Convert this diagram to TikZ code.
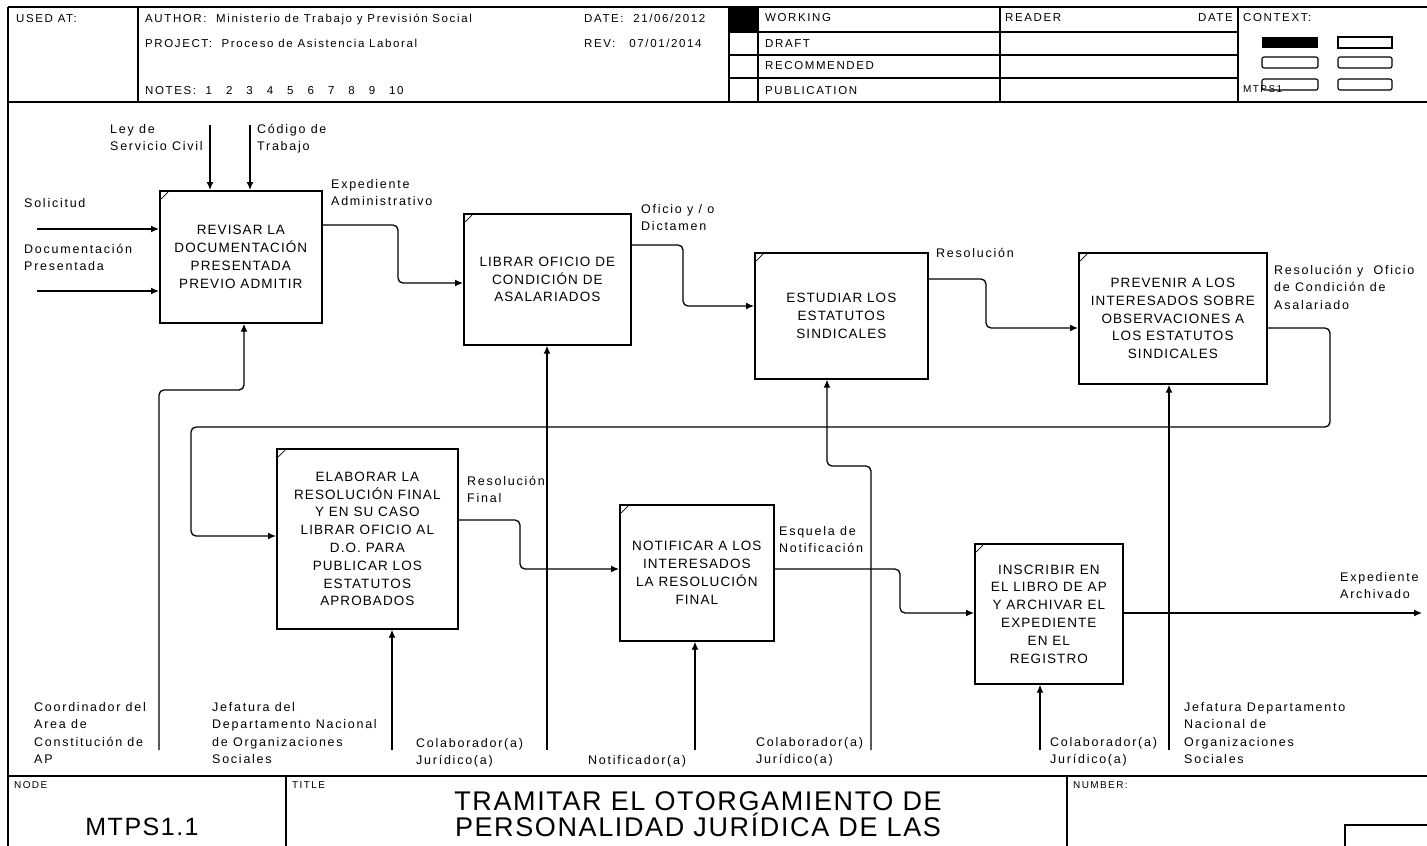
\documentclass[tikz,border=0pt]{standalone}
\usepackage{fontspec}
\setmainfont{Liberation Sans}
\newfontfamily\lblfam[LetterSpace=14]{Liberation Sans}
\newfontfamily\boxfam[LetterSpace=8]{Liberation Sans}
\newfontfamily\titfam[LetterSpace=6]{Liberation Sans}
\usetikzlibrary{arrows.meta}
\begin{document}
\begin{tikzpicture}[x=1pt,y=-1pt,
  frame/.style={line width=1.6pt},
  thinl/.style={line width=1.1pt},
  box/.style={draw, line width=1.7pt, anchor=north west, align=center, inner sep=0pt,
    font=\boxfam\fontsize{13.5}{17.8}\selectfont},
  conn/.style={line width=1.3pt, rounded corners=5pt},
  arr/.style={conn, -{Latex[length=8pt,width=7pt]}},
  lbl/.style={anchor=base west, inner sep=0pt, align=left,
    font=\lblfam\fontsize{12.5}{17.5}\selectfont},
  hdr/.style={anchor=base west, inner sep=0pt, font=\lblfam\fontsize{11.5}{14}\selectfont},
  small/.style={anchor=base west, inner sep=0pt, font=\lblfam\fontsize{10}{11}\selectfont},
  tick/.style={line width=0.7pt}
]
\useasboundingbox (0,0) rectangle (1427,846);
\fill[white] (0,0) rectangle (1427,846);

% ---------- header ----------
\draw[frame] (8,7) -- (1427,7);
\draw[frame] (8,7) -- (8,846);
\draw[frame] (8,102) -- (1427,102);
\draw[frame] (138,7) -- (138,102);
\draw[frame] (729,7) -- (729,102);
\draw[frame] (758,7) -- (758,102);
\draw[frame] (1000,7) -- (1000,102);
\draw[frame] (1238,7) -- (1238,102);
\foreach \yy in {32,55,78} \draw[frame] (729,\yy) -- (1238,\yy);
\fill (729,7) rectangle (758,32);

\node[hdr] (usedat) at (16,22) {USED AT:};
\node[hdr] (author) at (145,22) {AUTHOR:\ \ Ministerio de Trabajo y Previsión Social};
\node[hdr] (project) at (145,47) {PROJECT:\ \ Proceso de Asistencia Laboral};
\node[hdr] (notes) at (145,94) {NOTES:\ \ 1\hspace{14pt}2\hspace{14pt}3\hspace{14pt}4\hspace{14pt}5\hspace{14pt}6\hspace{14pt}7\hspace{14pt}8\hspace{14pt}9\hspace{14pt}10};
\node[hdr] (date) at (584,22) {DATE:\ \ 21/06/2012};
\node[hdr] (rev) at (584,47) {REV:\hspace{14pt}07/01/2014};
\node[hdr] (working) at (765,21) {WORKING};
\node[hdr] (draft) at (765,47) {DRAFT};
\node[hdr] (recom) at (765,69) {RECOMMENDED};
\node[hdr] (public) at (765,94) {PUBLICATION};
\node[hdr] (reader) at (1005,21) {READER};
\node[hdr, anchor=base east] (rdate) at (1233,21) {DATE};
\node[hdr] (context) at (1243,21) {CONTEXT:};

\fill (1262,37) rectangle (1318,48);
\draw[thinl] (1338,37) rectangle (1392,48);
\draw[thinl, rounded corners=2pt] (1262,57) rectangle (1318,68);
\draw[thinl, rounded corners=2pt] (1338,57) rectangle (1392,68);
\draw[thinl, rounded corners=2pt] (1262,79) rectangle (1318,90);
\draw[thinl, rounded corners=2pt] (1338,79) rectangle (1392,90);
\node[small] (ctxnode) at (1243,92) {MTPS1};

% ---------- boxes ----------
\node[box, minimum width=162pt, minimum height=132pt] (A) at (159,190)
  {REVISAR LA\\DOCUMENTACIÓN\\PRESENTADA\\PREVIO ADMITIR};
\node[box, minimum width=167pt, minimum height=131pt] (B) at (463,213)
  {LIBRAR OFICIO DE\\CONDICIÓN DE\\ASALARIADOS};
\node[box, minimum width=173pt, minimum height=126pt] (C) at (754,252)
  {ESTUDIAR LOS\\ESTATUTOS\\SINDICALES};
\node[box, minimum width=188pt, minimum height=131pt] (D) at (1078,252)
  {PREVENIR A LOS\\INTERESADOS SOBRE\\OBSERVACIONES A\\LOS ESTATUTOS\\SINDICALES};
\node[box, minimum width=181pt, minimum height=180pt] (E) at (276,448)
  {ELABORAR LA\\RESOLUCIÓN FINAL\\Y EN SU CASO\\LIBRAR OFICIO AL\\D.O. PARA\\PUBLICAR LOS\\ESTATUTOS\\APROBADOS};
\node[box, minimum width=154pt, minimum height=136pt] (F) at (619,504)
  {NOTIFICAR A LOS\\INTERESADOS\\LA RESOLUCIÓN\\FINAL};
\node[box, minimum width=148pt, minimum height=140pt] (G) at (974,543)
  {INSCRIBIR EN\\EL LIBRO DE AP\\Y ARCHIVAR EL\\EXPEDIENTE\\EN EL\\REGISTRO};

\foreach \b in {A,B,C,D,E,F,G} \draw[tick] (\b.north west) ++(2,9) -- ++(7,-7);

% ---------- inputs and controls of A ----------
\coordinate (inS) at (37,229);
\coordinate (inD) at (37,291);
\draw[arr] (inS) -- (inS -| A.west);
\draw[arr] (inD) -- (inD -| A.west);
\coordinate (ctl1) at (210,125);
\coordinate (ctl2) at (250,125);
\draw[arr] (ctl1) -- (ctl1 |- A.north);
\draw[arr] (ctl2) -- (ctl2 |- A.north);

% ---------- flows ----------
\draw[arr] (A.east |- 0,225) -- (398,225) -- (398,283) -- (B.west |- 0,283);
\draw[arr] (B.east |- 0,245) -- (683,245) -- (683,306) -- (C.west |- 0,306);
\draw[arr] (C.east |- 0,279) -- (986,279) -- (986,328) -- (D.west |- 0,328);
\draw[arr] (D.east |- 0,328) -- (1330,328) -- (1330,427) -- (191,427) -- (191,536) -- (E.west |- 0,536);
\draw[arr] (E.east |- 0,520) -- (520,520) -- (520,569) -- (F.west |- 0,569);
\draw[arr] (F.east |- 0,569) -- (900,569) -- (900,613) -- (G.west |- 0,613);
\coordinate (outG) at (1422,613);
\draw[arr] (G.east |- outG) -- (outG);

% ---------- mechanisms ----------
\coordinate (mA) at (159,750);
\coordinate (mB) at (547,750);
\coordinate (mC) at (871,750);
\coordinate (mD) at (1169,750);
\coordinate (mE) at (392,750);
\coordinate (mF) at (695,750);
\coordinate (mG) at (1040,750);
\draw[arr] (mA) -- (159,390) -- (244,390) -- (A.south -| 244,0);
\draw[arr] (mB) -- (mB |- B.south);
\draw[arr] (mC) -- (871,466) -- (827,466) -- (C.south -| 827,0);
\draw[arr] (mD) -- (mD |- D.south);
\draw[arr] (mE) -- (mE |- E.south);
\draw[arr] (mF) -- (mF |- F.south);
\draw[arr] (mG) -- (mG |- G.south);

% ---------- labels (anchored on the baseline of their last line) ----------
\node[lbl] (lSol) at (24,207) {Solicitud};
\node[lbl] (lDoc) at (24,270.5) {Documentación\\Presentada};
\node[lbl] (lLey) at (110,150.5) {Ley de\\Servicio Civil};
\node[lbl] (lCod) at (257,150.5) {Código de\\Trabajo};
\node[lbl] (lExp) at (331,205.5) {Expediente\\Administrativo};
\node[lbl] (lOfi) at (641,230.5) {Oficio y / o\\Dictamen};
\node[lbl] (lRes) at (936,257) {Resolución};
\node[lbl] (lRyO) at (1274,309) {Resolución y\ \ Oficio\\de Condición de\\Asalariado};
\node[lbl] (lRF) at (467,502.5) {Resolución\\Final};
\node[lbl] (lEsq) at (779,552.5) {Esquela de\\Notificación};
\node[lbl] (lEA) at (1340,598.5) {Expediente\\Archivado};
\node[lbl] (lCoord) at (34,763.5) {Coordinador del\\Area de\\Constitución de\\AP};
\node[lbl] (lJef1) at (212,763.5) {Jefatura del\\Departamento Nacional\\de Organizaciones\\Sociales};
\node[lbl] (lCol1) at (416,764.5) {Colaborador(a)\\Jurídico(a)};
\node[lbl] (lNot) at (588,764) {Notificador(a)};
\node[lbl] (lCol2) at (756,763.5) {Colaborador(a)\\Jurídico(a)};
\node[lbl] (lCol3) at (1050,763.5) {Colaborador(a)\\Jurídico(a)};
\node[lbl] (lJef2) at (1184,763.5) {Jefatura Departamento\\Nacional de\\Organizaciones\\Sociales};

% ---------- bottom block ----------
\draw[frame] (8,776) -- (1427,776);
\draw[frame] (286,776) -- (286,846);
\draw[frame] (1067,776) -- (1067,846);
\draw[frame] (1345,846) -- (1345,825) -- (1427,825);
\node[small] (lnode) at (14,788) {NODE};
\node[small] (ltitle) at (292,788) {TITLE};
\node[small] (lnumber) at (1073,788) {NUMBER:};
\node[anchor=base, inner sep=0pt, font=\titfam\fontsize{25}{26}\selectfont] (nodeid) at (142,835) {MTPS1.1};
\node[anchor=base, align=center, inner sep=0pt, font=\titfam\fontsize{27}{26}\selectfont] (title) at (698,836)
  {TRAMITAR EL OTORGAMIENTO DE\\PERSONALIDAD JURÍDICA DE LAS};
\end{tikzpicture}
\end{document}
